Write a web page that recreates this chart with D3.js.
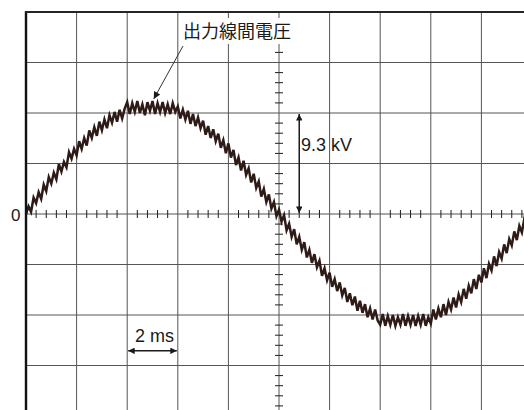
<!DOCTYPE html>
<html>
<head>
<meta charset="utf-8">
<script src="https://cdn.jsdelivr.net/npm/d3@7"></script>
<style>
html,body{margin:0;padding:0;background:#fff;}
svg{display:block;}
</style>
</head>
<body>
<svg id="chart" width="524" height="410"></svg>
<script>
// ---- data ----
const sampleStepMs = 0.1; // oscilloscope sample spacing (ms)
// output line-to-line voltage (kV)
const voltageKv = [
 0.0, 0.7, 0.2, 1.5, 1.0, 2.0, 1.4, 2.7, 2.1, 3.4,
 2.8, 3.8, 3.2, 4.6, 3.9, 4.8, 4.3, 5.7, 5.1, 6.0,
 5.4, 6.7, 6.0, 7.0, 6.3, 7.7, 7.0, 8.0, 7.2, 8.5,
 7.7, 8.7, 7.9, 9.1, 8.4, 9.4, 8.5, 9.6, 8.8, 9.7,
 10.3, 9.2, 10.2, 9.4, 10.4, 9.3, 10.1, 9.1, 10.3, 9.5,
 10.4, 9.2, 10.2, 9.4, 10.3, 9.3, 10.1, 9.2, 10.2, 9.4,
 9.9, 8.8, 9.6, 8.7, 9.5, 8.3, 9.2, 8.1, 8.9, 7.9,
 8.6, 7.3, 8.1, 7.0, 7.8, 6.7, 7.4, 6.1, 6.8, 5.6,
 6.5, 5.2, 5.9, 4.5, 5.2, 4.0, 4.9, 3.6, 4.2, 2.9,
 3.7, 2.4, 3.0, 1.6, 2.3, 1.1, 1.8, 0.5, 1.1, -0.2,
 0.4, -0.7, -0.1, -1.5, -0.9, -2.1, -1.4, -2.8, -2.1, -3.3,
 -2.6, -4.0, -3.3, -4.5, -3.7, -4.9, -4.3, -5.7, -5.0, -6.1,
 -5.4, -6.7, -6.0, -7.1, -6.3, -7.5, -6.8, -8.1, -7.3, -8.4,
 -7.6, -8.9, -8.0, -9.1, -8.3, -9.5, -8.7, -9.7, -8.8, -9.8,
 -10.2, -9.2, -10.3, -9.4, -10.2, -9.3, -10.3, -9.5, -10.2, -9.2,
 -10.3, -9.4, -10.2, -9.3, -10.3, -9.4, -10.2, -9.2, -10.3, -9.5,
 -10.1, -8.8, -9.7, -8.7, -9.5, -8.3, -9.3, -8.1, -8.8, -7.7,
 -8.6, -7.4, -8.1, -6.9, -7.8, -6.6, -7.3, -6.0, -6.9, -5.6,
 -6.3, -5.0, -5.9, -4.6, -5.2, -3.9, -4.8, -3.5, -4.1, -2.8,
 -3.6, -2.3, -2.9, -1.6, -2.4, -1.1, -1.7, -0.4, -0.8
];
const xGridMs = [0, 2, 4, 6, 8, 10, 12, 14, 16, 18, 20];
const yGridKv = [-18.6, -13.95, -9.3, -4.65, 0, 4.65, 9.3, 13.95, 18.6];
const xMinorStepMs = 0.4;
const yMinorStepKv = 0.93;
const traceLabel = "出力線間電圧";
const zeroLabel = "0";
const ampLabel = "9.3 kV";
const ampKv = 9.3;
const timeLabel = "2 ms";
const timeSpanMs = [4, 6];

// ---- layout ----
const svg = d3.select("#chart");
const x = d3.scaleLinear().domain([0, 20]).range([26, 532]);
const y = d3.scaleLinear().domain([-18.6, 18.6]).range([416, 12]);
const gridColor = "#555";
const ink = "#1e1e1e";
const traceColor = "#2e1b17";
const latin = "'Liberation Sans', Arial, sans-serif";
const cjk = "'Noto Sans CJK JP', 'Noto Sans CJK SC', sans-serif";

// grid
const g = svg.append("g");
g.selectAll("line.v").data(xGridMs).join("line")
  .attr("x1", d => x(d)).attr("x2", d => x(d))
  .attr("y1", y(18.6)).attr("y2", y(-18.6))
  .attr("stroke", gridColor).attr("stroke-width", 1);
g.selectAll("line.h").data(yGridKv).join("line")
  .attr("x1", x(0)).attr("x2", x(20))
  .attr("y1", d => y(d)).attr("y2", d => y(d))
  .attr("stroke", gridColor).attr("stroke-width", d => d === 0 ? 1.2 : 1);

// minor ticks on centre axes
const xMinor = d3.range(0, 20 + 1e-9, xMinorStepMs).filter(v => Math.abs(v / 2 - Math.round(v / 2)) > 1e-6);
g.selectAll("line.xm").data(xMinor).join("line")
  .attr("x1", d => x(d)).attr("x2", d => x(d))
  .attr("y1", y(0) - 4).attr("y2", y(0) + 4)
  .attr("stroke", ink).attr("stroke-width", 1);
const yMinor = d3.range(-18.6, 18.6 + 1e-9, yMinorStepKv).filter(v => Math.abs(v / 4.65 - Math.round(v / 4.65)) > 1e-3);
g.selectAll("line.ym").data(yMinor).join("line")
  .attr("x1", x(10) - 4).attr("x2", x(10) + 4)
  .attr("y1", d => y(d)).attr("y2", d => y(d))
  .attr("stroke", ink).attr("stroke-width", 1);

// trace
const line = d3.line()
  .x((d, i) => x(i * sampleStepMs))
  .y(d => y(d));
svg.append("path").datum(voltageKv)
  .attr("d", line)
  .attr("fill", "none")
  .attr("stroke", traceColor)
  .attr("stroke-width", 2.5)
  .attr("stroke-linejoin", "miter");

// frame (left + top borders)
svg.append("line").attr("x1", x(0)).attr("x2", x(0)).attr("y1", y(18.6) - 1).attr("y2", 410)
  .attr("stroke", "#111").attr("stroke-width", 2.4);
svg.append("line").attr("x1", x(0) - 1).attr("x2", 524).attr("y1", y(18.6)).attr("y2", y(18.6))
  .attr("stroke", "#2a2420").attr("stroke-width", 2);

// markers
const defs = svg.append("defs");
defs.append("marker").attr("id", "ah").attr("viewBox", "0 0 10 10")
  .attr("refX", 10).attr("refY", 5).attr("markerWidth", 10).attr("markerHeight", 6.5)
  .attr("markerUnits", "userSpaceOnUse").attr("orient", "auto-start-reverse")
  .append("path").attr("d", "M0,0 L10,5 L0,10 Z").attr("fill", "#1a1a1a");
defs.append("marker").attr("id", "ah2").attr("viewBox", "0 0 10 10")
  .attr("refX", 10).attr("refY", 5).attr("markerWidth", 12).attr("markerHeight", 7)
  .attr("markerUnits", "userSpaceOnUse").attr("orient", "auto-start-reverse")
  .append("path").attr("d", "M0,0 L10,5 L0,10 Z").attr("fill", "#1a1a1a");

// label for trace
svg.append("rect").attr("x", 181).attr("y", 18).attr("width", 114).attr("height", 26).attr("fill", "#fff");
svg.append("text").attr("x", 183).attr("y", 30)
  .attr("dominant-baseline", "central")
  .attr("font-family", cjk).attr("font-size", 18).attr("fill", "#1a1a1a")
  .text(traceLabel);
svg.append("line")
  .attr("x1", 183).attr("y1", 46).attr("x2", x(5.05)).attr("y2", y(10.6))
  .attr("stroke", "#333").attr("stroke-width", 1)
  .attr("marker-end", "url(#ah2)");

// zero label
svg.append("text").attr("x", 11).attr("y", y(0) + 7)
  .attr("font-family", latin).attr("font-size", 17).attr("fill", "#1a1a1a")
  .text(zeroLabel);

// 9.3 kV arrow
svg.append("line")
  .attr("x1", x(10.8)).attr("x2", x(10.8))
  .attr("y1", y(ampKv) + 1).attr("y2", y(0) - 1)
  .attr("stroke", "#1a1a1a").attr("stroke-width", 1.5)
  .attr("marker-start", "url(#ah)").attr("marker-end", "url(#ah)");
svg.append("text").attr("x", 301).attr("y", 150.5)
  .attr("font-family", latin).attr("font-size", 18).attr("fill", "#1a1a1a")
  .text(ampLabel);

// 2 ms arrow
svg.append("line")
  .attr("x1", x(timeSpanMs[0]) + 1).attr("x2", x(timeSpanMs[1]) - 1)
  .attr("y1", y(-12.6)).attr("y2", y(-12.6))
  .attr("stroke", "#1a1a1a").attr("stroke-width", 1.5)
  .attr("marker-start", "url(#ah)").attr("marker-end", "url(#ah)");
svg.append("text").attr("x", 135).attr("y", 342)
  .attr("font-family", latin).attr("font-size", 18).attr("fill", "#1a1a1a")
  .text(timeLabel);
</script>
</body>
</html>
